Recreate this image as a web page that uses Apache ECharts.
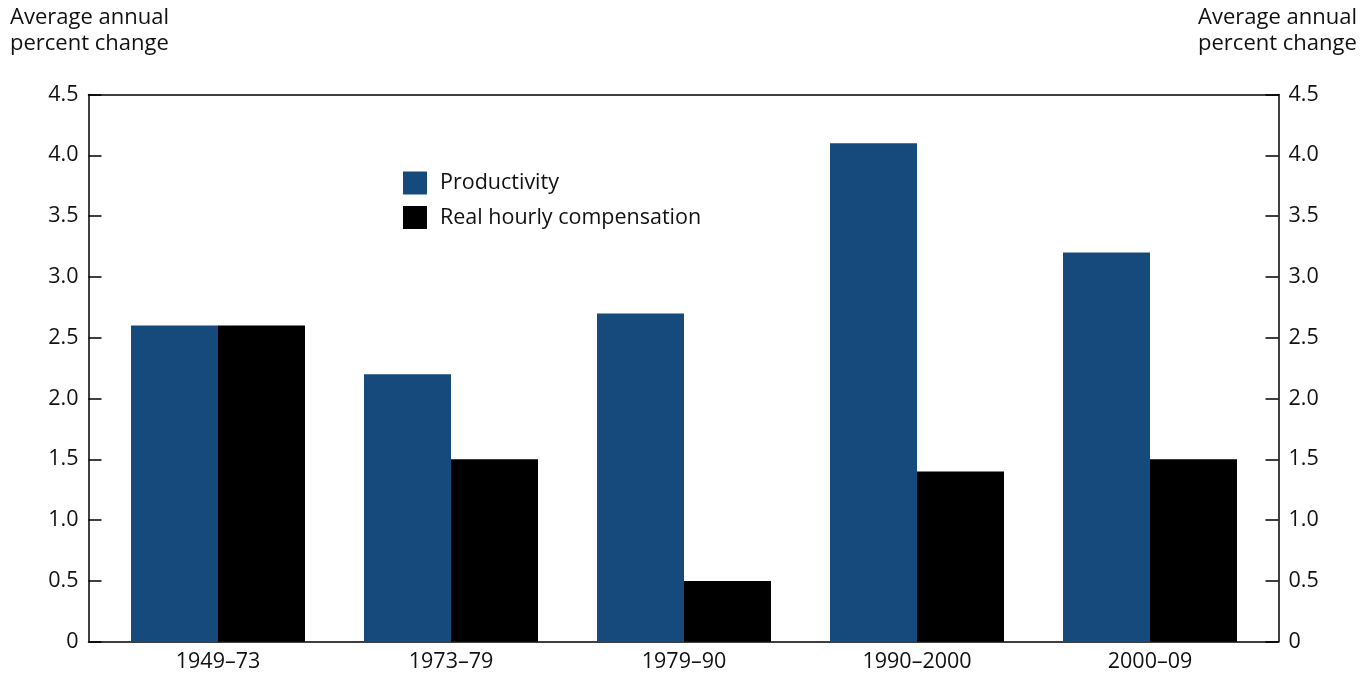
<!DOCTYPE html>
<html>
<head>
<meta charset="utf-8">
<script src="https://cdn.jsdelivr.net/npm/echarts@6/dist/echarts.min.js"></script>
<style>html,body{margin:0;padding:0;background:#fff}#c{width:1372px;height:673px}</style>
</head>
<body>
<div id="c"></div>
<script>
const categories = ['1949–73', '1973–79', '1979–90', '1990–2000', '2000–09'];
const productivity = [2.6, 2.2, 2.7, 4.1, 3.2];
const compensation = [2.6, 1.5, 0.5, 1.4, 1.5];
const axisTitle = 'Average annual\npercent change';

const FONT = '"Open Sans", "Noto Sans", sans-serif';
const FS = 21.5;
const chart = echarts.init(document.getElementById('c'));
const fmt = v => v === 0 ? '0' : v.toFixed(1);
const yCommon = {
  type: 'value', min: 0, max: 4.5, interval: 0.5,
  splitLine: { show: false },
  axisLine: { show: true, onZero: false, lineStyle: { color: '#000', width: 1.5 } },
  axisTick: { show: true, inside: true, length: 13, lineStyle: { color: '#000', width: 1.5 } },
  axisLabel: { formatter: fmt, color: '#111', fontSize: FS, fontFamily: FONT, margin: 10 }
};
const frameX = pos => ({
  type: 'value', gridIndex: 0, min: 0, max: 1, position: pos,
  axisLine: { show: true, onZero: false, lineStyle: { color: '#000', width: 1.5 } },
  axisTick: { show: false }, axisLabel: { show: false }, splitLine: { show: false }
});
chart.setOption({
  animation: false,
  textStyle: { fontFamily: FONT },
  grid: [
    { left: 88.5, right: 93.5, top: 94.5, bottom: 31.3 },
    { left: 101.5, right: 105.5, top: 94.5, bottom: 31.3 }
  ],
  xAxis: [
    frameX('bottom'),
    frameX('top'),
    { type: 'category', gridIndex: 1, data: categories,
      axisLine: { show: false, onZero: false }, axisTick: { show: false },
      axisLabel: { color: '#111', fontSize: FS, fontFamily: FONT, margin: 9 } }
  ],
  yAxis: [
    Object.assign({ gridIndex: 0, position: 'left' }, yCommon),
    Object.assign({ gridIndex: 0, position: 'right' }, yCommon),
    { type: 'value', gridIndex: 1, min: 0, max: 4.5, show: false }
  ],
  legend: {
    orient: 'vertical', left: 403, top: 171.5, padding: 0, itemWidth: 24, itemHeight: 23,
    itemGap: 11.5, icon: 'rect',
    textStyle: { fontSize: FS, color: '#111', fontFamily: FONT, padding: [0, 0, 0, 8] },
    data: ['Productivity', 'Real hourly compensation']
  },
  graphic: [
    { type: 'text', left: 10, top: 5, style: { text: axisTitle, lineHeight: 26, fill: '#111', font: '22px ' + FONT } },
    { type: 'text', right: 15, top: 5, style: { text: axisTitle, lineHeight: 26, fill: '#111', align: 'left', font: '22px ' + FONT } }
  ],
  series: [
    { name: 'Productivity', type: 'bar', xAxisIndex: 2, yAxisIndex: 2, data: productivity,
      barWidth: 87, barGap: '0%', itemStyle: { color: '#174A7C' } },
    { name: 'Real hourly compensation', type: 'bar', xAxisIndex: 2, yAxisIndex: 2, data: compensation,
      barWidth: 87, barGap: '0%', itemStyle: { color: '#000' } }
  ]
});
</script>
</body>
</html>
